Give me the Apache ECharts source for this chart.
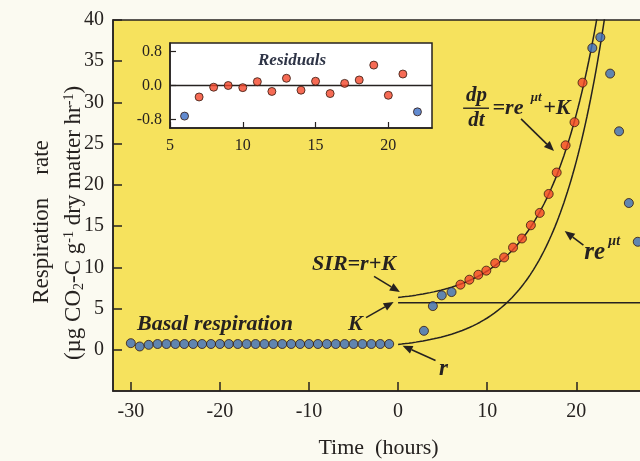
<!DOCTYPE html>
<html>
<head>
<meta charset="utf-8">
<script src="https://cdn.jsdelivr.net/npm/echarts@6/dist/echarts.min.js"></script>
<style>
  html, body { margin: 0; padding: 0; background: #fbfaf1; }
  #chart { width: 640px; height: 461px; }
</style>
</head>
<body>
<div id="chart"></div>
<script>
// Basal respiration before substrate addition (hourly)
const basalHours = [-30,-29,-28,-27,-26,-25,-24,-23,-22,-21,-20,-19,-18,-17,-16,-15,-14,-13,-12,-11,-10,-9,-8,-7,-6,-5,-4,-3,-2,-1];
const basalRate  = [0.8,0.4,0.6,0.7,0.7,0.7,0.7,0.7,0.7,0.7,0.7,0.7,0.7,0.7,0.7,0.7,0.7,0.7,0.7,0.7,0.7,0.7,0.7,0.7,0.7,0.7,0.7,0.7,0.7,0.7];

// Observations after glucose addition: lag phase, fitted window, decline
const earlyHours = [2.9, 3.9, 4.9, 6.0];
const earlyRate  = [2.3, 5.3, 6.6, 7.0];
const fitHours   = [7.0, 8.0, 9.0, 9.9, 10.9, 11.9, 12.9, 13.9, 14.9, 15.9, 16.9, 17.8, 18.8, 19.8, 20.7];
const fitRate    = [7.9, 8.5, 9.1, 9.6, 10.5, 11.2, 12.4, 13.5, 15.1, 16.6, 18.9, 21.5, 24.8, 27.6, 32.4];
const lateHours  = [21.8, 22.7, 23.8, 24.8, 25.9, 26.9];
const lateRate   = [36.6, 37.9, 33.5, 26.5, 17.8, 13.1];

// Residuals of the exponential fit
const residHours  = [6,7,8,9,10,11,12,13,14,15,16,17,18,19,20,21,22];
const residValues = [-0.72,-0.27,-0.04,0.0,-0.05,0.09,-0.14,0.17,-0.11,0.10,-0.19,0.05,0.13,0.48,-0.23,0.27,-0.62];
const residExcluded = [0, 16]; // indices drawn in blue

// Fitted parameters of dp/dt = r e^(mu t) + K
const fitR = 0.65, fitMu = 0.178, fitK = 5.7;

// Tick labels
const xTicks = [-30, -20, -10, 0, 10, 20];
const yTicks = [0, 5, 10, 15, 20, 25, 30, 35, 40];
const insetXTicks = [5, 10, 15, 20];
const insetYTicks = [-0.8, 0, 0.8];

const YELLOW = '#f6e25d';
const INK = '#262220';
const RED = '#f4462a';
const BLUE = '#3b6ec4';
const SERIF = '"Liberation Serif", "DejaVu Serif", serif';

const zip = (xs, ys) => xs.map((x, i) => [x, ys[i]]);

// Sample the model curves over the growth period
const modelHours = [];
for (let t = 0; t <= 24; t += 0.2) modelHours.push(+t.toFixed(2));
const growthCurve = modelHours.map(t => [t, fitR * Math.exp(fitMu * t)]);
const totalCurve  = modelHours.map(t => [t, fitR * Math.exp(fitMu * t) + fitK]);

const chart = echarts.init(document.getElementById('chart'), null, { renderer: 'canvas' });

const dotStyle = (color) => ({ color, borderColor: '#33190f', borderWidth: 1 });

chart.setOption({
  animation: false,
  backgroundColor: '#fbfaf1',
  grid: [
    { left: 113, top: 20, right: -4, height: 371, show: true, backgroundColor: YELLOW,
      borderColor: INK, borderWidth: 1.5, containLabel: false, outerBoundsMode: 'none' },
    { left: 170, top: 43, width: 262, height: 85, show: true, backgroundColor: '#ffffff',
      borderColor: INK, borderWidth: 1.5, containLabel: false, outerBoundsMode: 'none' }
  ],
  xAxis: [
    { type: 'value', gridIndex: 0, min: -32, max: 27.6,
      axisLine: { onZero: false, lineStyle: { color: INK, width: 1.5 } },
      axisTick: { inside: true, length: 9, customValues: xTicks, lineStyle: { color: INK, width: 1.5 } },
      axisLabel: { customValues: xTicks, margin: 11, fontSize: 20, fontFamily: SERIF, color: INK },
      splitLine: { show: false },
      name: 'Time  (hours)', nameLocation: 'middle', nameGap: 46,
      nameTextStyle: { fontSize: 22, fontFamily: SERIF, color: INK } },
    { type: 'value', gridIndex: 1, min: 5, max: 23,
      axisLine: { onZero: false, lineStyle: { color: INK, width: 1.5 } },
      axisTick: { inside: true, length: 6, customValues: insetXTicks, lineStyle: { color: INK, width: 1.2 } },
      axisLabel: { customValues: insetXTicks, margin: 10, fontSize: 16, fontFamily: SERIF, color: INK },
      splitLine: { show: false } }
  ],
  yAxis: [
    { type: 'value', gridIndex: 0, min: -5, max: 40,
      axisLine: { onZero: false, lineStyle: { color: INK, width: 1.5 } },
      axisTick: { inside: true, length: 9, customValues: yTicks, lineStyle: { color: INK, width: 1.5 } },
      axisLabel: { customValues: yTicks, margin: 9, fontSize: 20, fontFamily: SERIF, color: INK },
      splitLine: { show: false } },
    { type: 'value', gridIndex: 1, min: -1, max: 1,
      axisLine: { onZero: false, lineStyle: { color: INK, width: 1.5 } },
      axisTick: { inside: true, length: 6, customValues: insetYTicks, lineStyle: { color: INK, width: 1.2 } },
      axisLabel: { customValues: insetYTicks, margin: 8, fontSize: 16, fontFamily: SERIF, color: INK,
        formatter: v => v.toFixed(1) },
      splitLine: { show: false } }
  ],
  series: [
    { type: 'line', xAxisIndex: 0, yAxisIndex: 0, data: totalCurve, showSymbol: false, z: 2,
      lineStyle: { color: INK, width: 1.5 } },
    { type: 'line', xAxisIndex: 0, yAxisIndex: 0, data: growthCurve, showSymbol: false, z: 2,
      lineStyle: { color: INK, width: 1.5 } },
    { type: 'line', xAxisIndex: 0, yAxisIndex: 0, data: [[0, fitK], [27.6, fitK]], showSymbol: false, z: 2,
      lineStyle: { color: INK, width: 1.5 } },
    { type: 'scatter', xAxisIndex: 0, yAxisIndex: 0, data: zip(basalHours, basalRate), symbolSize: 9, z: 5,
      itemStyle: dotStyle(BLUE) },
    { type: 'scatter', xAxisIndex: 0, yAxisIndex: 0, data: zip(earlyHours, earlyRate), symbolSize: 9, z: 5,
      itemStyle: dotStyle(BLUE) },
    { type: 'scatter', xAxisIndex: 0, yAxisIndex: 0, data: zip(fitHours, fitRate), symbolSize: 9, z: 5,
      itemStyle: dotStyle(RED) },
    { type: 'scatter', xAxisIndex: 0, yAxisIndex: 0, data: zip(lateHours, lateRate), symbolSize: 9, z: 5,
      itemStyle: dotStyle(BLUE) },
    { type: 'line', xAxisIndex: 1, yAxisIndex: 1, data: [[5, 0], [23, 0]], showSymbol: false, z: 3,
      lineStyle: { color: INK, width: 1.3 } },
    { type: 'scatter', xAxisIndex: 1, yAxisIndex: 1, symbolSize: 8, z: 5,
      data: residHours.map((h, i) => ({
        value: [h, residValues[i]],
        itemStyle: dotStyle(residExcluded.includes(i) ? BLUE : RED)
      })) }
  ]
});

// Annotations placed in data coordinates of the main panel
const px = (pt) => chart.convertToPixel({ xAxisIndex: 0, yAxisIndex: 0 }, pt);
const annFont = (size, extra) => Object.assign({
  fontFamily: SERIF, fontSize: size, fontWeight: 'bold', fontStyle: 'italic', fill: INK
}, extra || {});

function arrow(from, to) {
  const a = px(from), b = px(to);
  const ang = Math.atan2(b[1] - a[1], b[0] - a[0]);
  const L = 10, W = 4.2;
  const base = [b[0] - L * Math.cos(ang), b[1] - L * Math.sin(ang)];
  const nx = -Math.sin(ang), ny = Math.cos(ang);
  return [
    { type: 'line', z: 20, shape: { x1: a[0], y1: a[1], x2: base[0], y2: base[1] },
      style: { stroke: INK, lineWidth: 1.6 } },
    { type: 'polygon', z: 20, shape: { points: [b, [base[0] + nx * W, base[1] + ny * W], [base[0] - nx * W, base[1] - ny * W]] },
      style: { fill: INK } }
  ];
}

function label(text, at, size, align, extra) {
  const p = px(at);
  return { type: 'text', z: 20, x: p[0], y: p[1],
    style: annFont(size, Object.assign({ text, textAlign: align || 'left', textVerticalAlign: 'middle' }, extra)) };
}

const graphics = [];
graphics.push(label('Basal respiration', [-29.3, 3.1], 22));
graphics.push(label('K', [-4.8, 3.1], 22, 'center'));
graphics.push(...arrow([-3.6, 3.9], [-0.5, 5.8]));
graphics.push(label('SIR=r+K', [-4.95, 10.4], 22, 'center'));
graphics.push(...arrow([-2.7, 8.9], [0.2, 7.0]));
graphics.push(label('r', [5.1, -2.3], 23, 'center'));
graphics.push(...arrow([4.2, -1.3], [0.5, 0.5]));

// dp/dt = r e^(mu t) + K
graphics.push(label('dp', [8.8, 30.8], 21, 'center'));
(function () {
  const a = px([7.3, 29.3]), b = px([10.2, 29.3]);
  graphics.push({ type: 'line', z: 20, shape: { x1: a[0], y1: a[1], x2: b[0], y2: b[1] },
    style: { stroke: INK, lineWidth: 1.4 } });
})();
graphics.push(label('dt', [8.8, 27.8], 21, 'center'));
graphics.push(label('=re', [10.6, 29.3], 22));
graphics.push(label('\u03bct', [14.9, 30.6], 13));
graphics.push(label('+K', [16.3, 29.3], 22));
graphics.push(...arrow([13.8, 28.0], [17.5, 24.1]));

// r e^(mu t)
graphics.push(label('re', [20.9, 11.8], 25));
graphics.push(label('\u03bct', [23.6, 13.2], 14));
graphics.push(...arrow([20.8, 12.7], [18.7, 14.4]));

// Inset title
graphics.push({ type: 'text', z: 20, x: 292, y: 61,
  style: annFont(17, { text: 'Residuals', textAlign: 'center', textVerticalAlign: 'middle', fill: '#2e3446' }) });

// Y axis title (two rotated lines)
graphics.push({ type: 'text', z: 20, x: 42, y: 222, rotation: Math.PI / 2,
  style: { text: 'Respiration    rate', fontFamily: SERIF, fontSize: 23, fill: INK,
    textAlign: 'center', textVerticalAlign: 'middle' } });
graphics.push({ type: 'text', z: 20, x: 74, y: 223, rotation: Math.PI / 2,
  style: { text: '{n|(\u00b5g CO}{sub|2}{n|-C g}{sup|-1}{n| dry matter hr}{sup|-1}{n|)}',
    textAlign: 'center', textVerticalAlign: 'middle',
    rich: {
      n: { fontFamily: SERIF, fontSize: 23, fill: INK, lineHeight: 28 },
      sub: { fontFamily: SERIF, fontSize: 14, fill: INK, verticalAlign: 'bottom', lineHeight: 28, padding: [0, 0, 2, 0] },
      sup: { fontFamily: SERIF, fontSize: 14, fill: INK, verticalAlign: 'top', lineHeight: 28, padding: [2, 0, 0, 0] }
    } } });

chart.setOption({ graphic: { elements: graphics } });
</script>
</body>
</html>
